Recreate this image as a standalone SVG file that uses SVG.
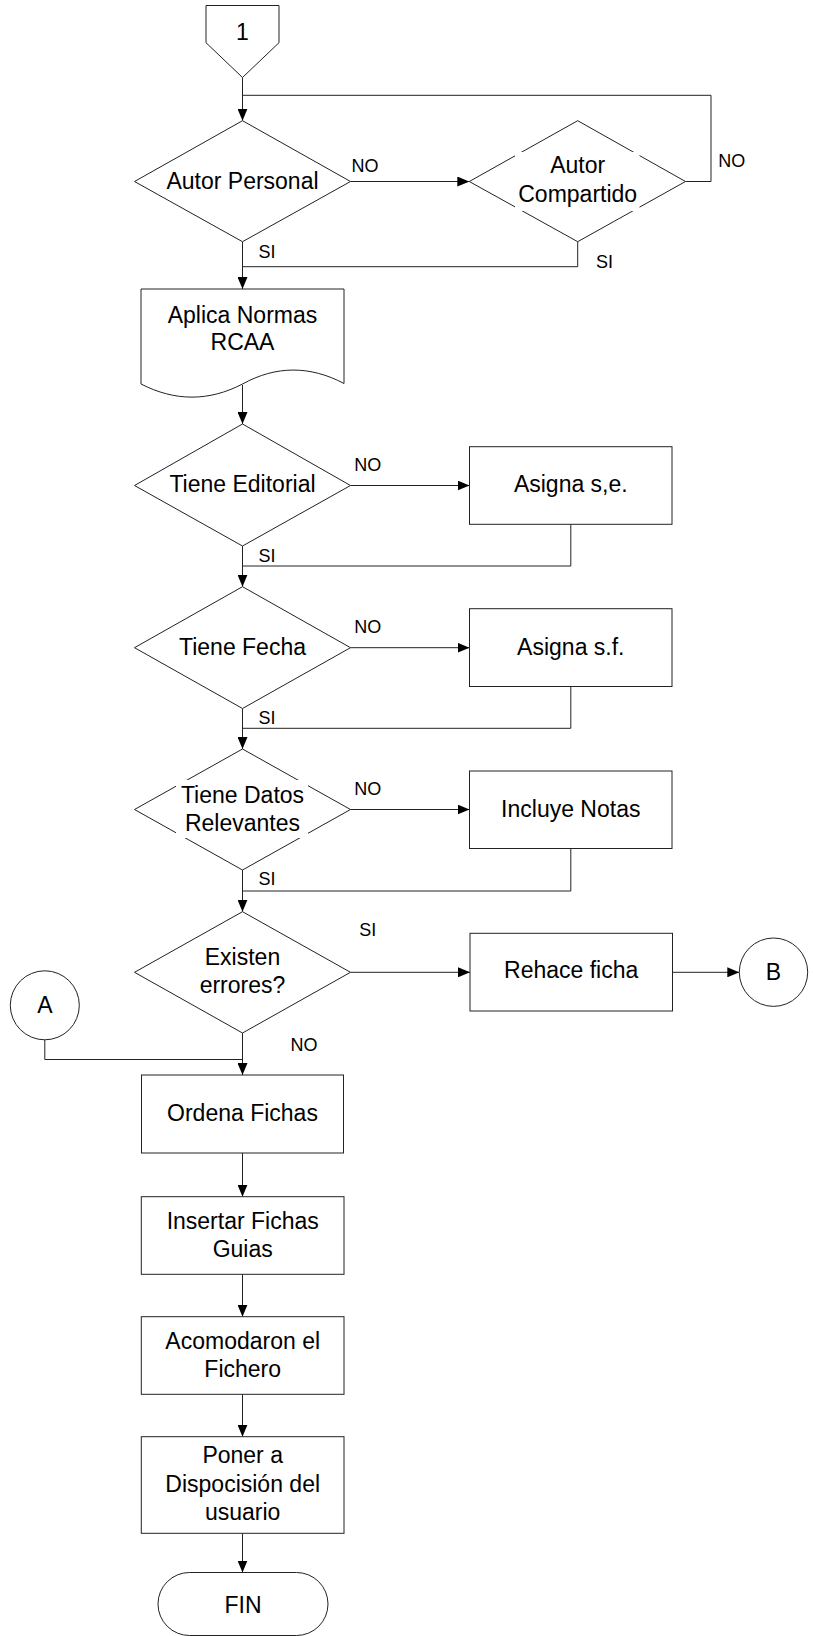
<svg xmlns="http://www.w3.org/2000/svg" width="813" height="1636" viewBox="0 0 813 1636">
  <defs>
    <marker id="arrow" markerUnits="userSpaceOnUse" markerWidth="12" markerHeight="10" refX="12" refY="5" orient="auto">
      <path d="M0,0 L12,5 L0,10 Z" fill="#000"/>
    </marker>
    <style>
      .shape { fill: #fff; stroke: #222; stroke-width: 1; }
      .mask { fill: #fff; stroke: none; }
      .wire { fill: none; stroke: #222; stroke-width: 1; }
      .arr { marker-end: url(#arrow); }
      .t { font-family: "Liberation Sans", Arial, sans-serif; font-size: 23px; fill: #000; text-anchor: middle; }
      .lbl { font-family: "Liberation Sans", Arial, sans-serif; font-size: 18px; fill: #000; }
    </style>
  </defs>
  <rect width="813" height="1636" fill="#fff"/>

  <!-- connectors -->
  <g id="connectors">
    <path class="wire arr" d="M242.5,77.5 V120.7"/>
    <path class="wire" d="M685.5,181.5 H711 V95.3 H242.5"/>
    <path class="wire arr" d="M350.5,181.5 H469.3"/>
    <path class="wire arr" d="M242.5,241.7 V289"/>
    <path class="wire" d="M577.7,241.7 V266.7 H242.5"/>
    <path class="wire arr" d="M242.5,385 V424"/>
    <path class="wire arr" d="M350.5,485.5 H469.5"/>
    <path class="wire arr" d="M242.5,546 V586.7"/>
    <path class="wire" d="M570.8,524.3 V566 H242.5"/>
    <path class="wire arr" d="M350.5,647.7 H469.5"/>
    <path class="wire arr" d="M242.5,708.5 V749"/>
    <path class="wire" d="M570.8,686.5 V728.3 H242.5"/>
    <path class="wire arr" d="M350.5,809.5 H469.5"/>
    <path class="wire arr" d="M242.5,870 V911.7"/>
    <path class="wire" d="M570.8,848.5 V891 H242.5"/>
    <path class="wire arr" d="M350.5,972.3 H470"/>
    <path class="wire arr" d="M672.5,972.3 H739.3"/>
    <path class="wire arr" d="M242.5,1033 V1075"/>
    <path class="wire" d="M44.8,1039.8 V1059.5 H242.5"/>
    <path class="wire arr" d="M242.5,1153 V1196.7"/>
    <path class="wire arr" d="M242.5,1274.3 V1316.7"/>
    <path class="wire arr" d="M242.5,1394.3 V1436.7"/>
    <path class="wire arr" d="M242.5,1533.3 V1572.5"/>

    <!-- branch labels -->
    <text class="lbl" x="351.5" y="172">NO</text>
    <text class="lbl" x="718.3" y="167.3">NO</text>
    <text class="lbl" x="258.5" y="258.3">SI</text>
    <text class="lbl" x="596" y="267.5">SI</text>
    <text class="lbl" x="354.2" y="470.7">NO</text>
    <text class="lbl" x="258.5" y="561.7">SI</text>
    <text class="lbl" x="354.2" y="632.7">NO</text>
    <text class="lbl" x="258.5" y="724">SI</text>
    <text class="lbl" x="354.2" y="795">NO</text>
    <text class="lbl" x="258.5" y="885">SI</text>
    <text class="lbl" x="359.3" y="936">SI</text>
    <text class="lbl" x="290.4" y="1050.7">NO</text>
  </g>

  <!-- off-page connector -->
  <g id="start">
    <polygon class="shape" points="206,5.5 279,5.5 279,42.7 242.5,77.5 206,42.7"/>
    <text class="t" x="242.5" y="40">1</text>
  </g>

  <g id="autor-personal">
    <polygon class="shape" points="134.5,181.5 242.5,120.7 350.5,181.5 242.5,241.7"/>
    <text class="t" x="242.5" y="189">Autor Personal</text>
  </g>

  <g id="autor-compartido">
    <polygon class="shape" points="469.3,181.5 577.7,120.7 685.5,181.5 577.7,241.7"/>
    <rect class="mask" x="515" y="152" width="124.5" height="59"/>
    <text class="t" x="577.7" y="173.3">Autor</text>
    <text class="t" x="577.7" y="202.3">Compartido</text>
  </g>

  <g id="aplica-normas">
    <path class="shape" d="M141,289 H344 V383.5 C310,365.5 276,365.5 242.5,384 C209,401.5 175,401.5 141,384 Z"/>
    <text class="t" x="242.5" y="322.7">Aplica Normas</text>
    <text class="t" x="242.5" y="350">RCAA</text>
  </g>

  <g id="tiene-editorial">
    <polygon class="shape" points="134.5,485.5 242.5,424 350.5,485.5 242.5,546"/>
    <text class="t" x="242.5" y="492.3">Tiene Editorial</text>
  </g>

  <g id="asigna-se">
    <rect class="shape" x="469.5" y="446.7" width="202.5" height="77.6"/>
    <text class="t" x="570.8" y="492.3">Asigna s,e.</text>
  </g>

  <g id="tiene-fecha">
    <polygon class="shape" points="134.5,647.7 242.5,586.7 350.5,647.7 242.5,708.5"/>
    <text class="t" x="242.5" y="655">Tiene Fecha</text>
  </g>

  <g id="asigna-sf">
    <rect class="shape" x="469.5" y="608.7" width="202.5" height="77.8"/>
    <text class="t" x="570.8" y="655">Asigna s.f.</text>
  </g>

  <g id="tiene-datos">
    <polygon class="shape" points="134.5,809.5 242.5,749 350.5,809.5 242.5,870"/>
    <rect class="mask" x="176" y="780" width="132" height="58"/>
    <text class="t" x="242.5" y="802.7">Tiene Datos</text>
    <text class="t" x="242.5" y="830.7">Relevantes</text>
  </g>

  <g id="incluye-notas">
    <rect class="shape" x="469.5" y="771" width="202.5" height="77.5"/>
    <text class="t" x="570.8" y="816.7">Incluye Notas</text>
  </g>

  <g id="existen-errores">
    <polygon class="shape" points="134.5,972.3 242.5,911.7 350.5,972.3 242.5,1033"/>
    <text class="t" x="242.5" y="965">Existen</text>
    <text class="t" x="242.5" y="993.3">errores?</text>
  </g>

  <g id="rehace-ficha">
    <rect class="shape" x="470" y="933.3" width="202.5" height="77.7"/>
    <text class="t" x="571.2" y="978.3">Rehace ficha</text>
  </g>

  <g id="conector-b">
    <circle class="shape" cx="773.5" cy="972.2" r="34.2"/>
    <text class="t" x="773.5" y="979.5">B</text>
  </g>

  <g id="conector-a">
    <circle class="shape" cx="44.8" cy="1005.3" r="34.5"/>
    <text class="t" x="44.8" y="1012.7">A</text>
  </g>

  <g id="ordena-fichas">
    <rect class="shape" x="141.5" y="1075" width="202" height="78"/>
    <text class="t" x="242.5" y="1120.7">Ordena Fichas</text>
  </g>

  <g id="insertar-fichas">
    <rect class="shape" x="141.3" y="1196.7" width="202.7" height="77.6"/>
    <text class="t" x="242.7" y="1229.3">Insertar Fichas</text>
    <text class="t" x="242.7" y="1256.7">Guias</text>
  </g>

  <g id="acomodaron">
    <rect class="shape" x="141.3" y="1316.7" width="202.7" height="77.6"/>
    <text class="t" x="242.7" y="1349.3">Acomodaron el</text>
    <text class="t" x="242.7" y="1376.7">Fichero</text>
  </g>

  <g id="poner-disposicion">
    <rect class="shape" x="141.3" y="1436.7" width="202.7" height="96.6"/>
    <text class="t" x="242.7" y="1463.3">Poner a</text>
    <text class="t" x="242.7" y="1492.3">Dispocisión del</text>
    <text class="t" x="242.7" y="1520">usuario</text>
  </g>

  <g id="fin">
    <rect class="shape" x="158" y="1572.5" width="170" height="63" rx="31.5" ry="31.5"/>
    <text class="t" x="243" y="1613.3">FIN</text>
  </g>
</svg>
